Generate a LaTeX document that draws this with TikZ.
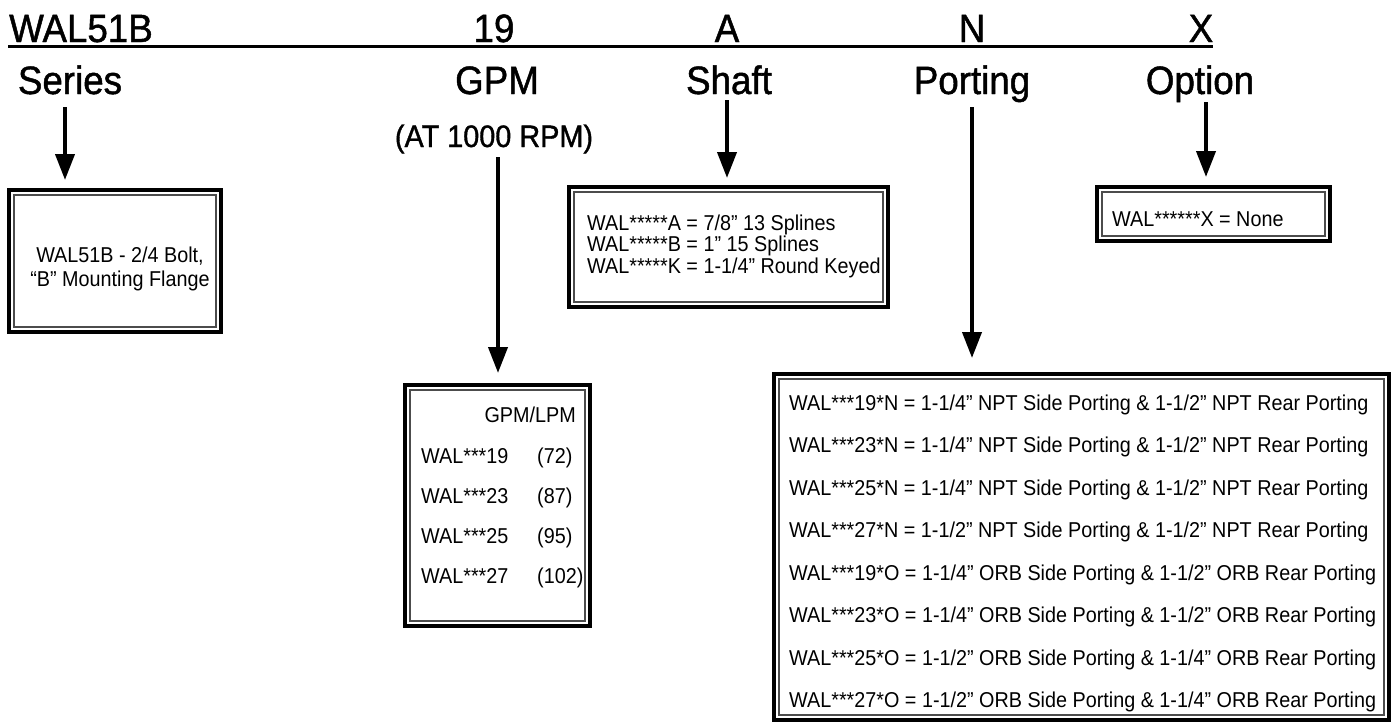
\documentclass[tikz,border=0pt]{standalone}
\usepackage{fontspec}
\setmainfont{Liberation Sans}
\newfontfamily\hdrfont[FakeStretch=0.93, FakeBold=1.2]{Liberation Sans}
\newfontfamily\boxfont[FakeStretch=0.92]{Liberation Sans}
\usetikzlibrary{arrows.meta,calc}
\begin{document}
\begin{tikzpicture}[x=1pt,y=-1pt,
  hdr/.style={font=\hdrfont\fontsize{39.5}{42}\selectfont, inner sep=0pt, anchor=base},
  sub/.style={font=\hdrfont\fontsize{31}{33}\selectfont, inner sep=0pt, anchor=base},
  txt/.style={font=\boxfont\fontsize{21.5}{23}\selectfont, inner sep=0pt, anchor=base west},
  dbox/.style={draw, line width=4pt, inner sep=0pt},
  innerline/.style={line width=1.2pt, draw=black!70},
  arr/.style={line width=4pt, -{Triangle[length=26pt,width=19pt]}},
  uline/.style={line width=3pt}]
\useasboundingbox (0,0) rectangle (1393,723);
% header
\node[hdr, anchor=base west] (code1) at (9,42) {WAL51B};
\node[hdr] (code2) at (494,42) {19};
\node[hdr] (code3) at (727,42) {A};
\node[hdr] (code4) at (972,42) {N};
\node[hdr] (code5) at (1201,42) {X};
\coordinate (ulstart) at (8,46.5);
\coordinate (ulend) at (1213,46.5);
\draw[uline] (ulstart) -- (ulend);
% labels
\node[hdr] (series) at (70,94) {Series};
\node[hdr] (gpm) at (497,94) {GPM};
\node[hdr] (shaft) at (729,94) {Shaft};
\node[hdr] (porting) at (972,94) {Porting};
\node[hdr] (option) at (1200,94) {Option};
\node[sub] (rpm) at (494,147) {(AT 1000 RPM)};
% boxes
\node[dbox, minimum width=212pt, minimum height=142pt] (seriesbox) at (115,261) {};
\node[dbox, minimum width=319pt, minimum height=120pt] (shaftbox) at (728.5,247) {};
\node[dbox, minimum width=233pt, minimum height=54pt] (optionbox) at (1213.5,214) {};
\node[dbox, minimum width=185pt, minimum height=241pt] (gpmbox) at (497.5,505.5) {};
\node[dbox, minimum width=615pt, minimum height=346pt] (portbox) at (1081.5,547) {};
\foreach \b in {seriesbox,shaftbox,optionbox,gpmbox,portbox}
  \draw[innerline] ([shift={(7pt,7pt)}]\b.south west) rectangle ([shift={(-7pt,-7pt)}]\b.north east);
% series text
\node[txt, anchor=base] (s1) at (120,262) {WAL51B - 2/4 Bolt,};
\node[txt, anchor=base] (s2) at (120,286) {“B” Mounting Flange};
% shaft text
\node[txt] (h1) at (587,230) {WAL*****A = 7/8” 13 Splines};
\node[txt] (h2) at (587,251.5) {WAL*****B = 1” 15 Splines};
\node[txt] (h3) at (587,273) {WAL*****K = 1-1/4” Round Keyed};
% option text
\node[txt] (o1) at (1112,226) {WAL******X = None};
% gpm text
\node[txt, anchor=base east] (g0) at (576,422) {GPM/LPM};
\node[txt] (g1) at (421,463) {WAL***19};
\node[txt] (g1r) at (537,463) {(72)};
\node[txt] (g2) at (421,503) {WAL***23};
\node[txt] (g2r) at (537,503) {(87)};
\node[txt] (g3) at (421,543) {WAL***25};
\node[txt] (g3r) at (537,543) {(95)};
\node[txt] (g4) at (421,583) {WAL***27};
\node[txt] (g4r) at (537,583) {(102)};
% porting text
\node[txt] (p1) at (789,410) {WAL***19*N = 1-1/4” NPT Side Porting \& 1-1/2” NPT Rear Porting};
\node[txt] (p2) at (789,452.5) {WAL***23*N = 1-1/4” NPT Side Porting \& 1-1/2” NPT Rear Porting};
\node[txt] (p3) at (789,495) {WAL***25*N = 1-1/4” NPT Side Porting \& 1-1/2” NPT Rear Porting};
\node[txt] (p4) at (789,537.5) {WAL***27*N = 1-1/2” NPT Side Porting \& 1-1/2” NPT Rear Porting};
\node[txt] (p5) at (789,580) {WAL***19*O = 1-1/4” ORB Side Porting \& 1-1/2” ORB Rear Porting};
\node[txt] (p6) at (789,622.5) {WAL***23*O = 1-1/4” ORB Side Porting \& 1-1/2” ORB Rear Porting};
\node[txt] (p7) at (789,665) {WAL***25*O = 1-1/2” ORB Side Porting \& 1-1/4” ORB Rear Porting};
\node[txt] (p8) at (789,707.5) {WAL***27*O = 1-1/2” ORB Side Porting \& 1-1/4” ORB Rear Porting};
% arrows
\coordinate (sa) at (65,107);
\coordinate (ga) at (498,157);
\coordinate (ha) at (727,100);
\coordinate (pa) at (972,107);
\coordinate (oa) at (1206,102);
\draw[arr, shorten >=8pt] (sa) -- (sa |- seriesbox.north);
\draw[arr, shorten >=10pt] (ga) -- (ga |- gpmbox.north);
\draw[arr, shorten >=7pt] (ha) -- (ha |- shaftbox.north);
\draw[arr, shorten >=14pt] (pa) -- (pa |- portbox.north);
\draw[arr, shorten >=8pt] (oa) -- (oa |- optionbox.north);
\end{tikzpicture}
\end{document}
